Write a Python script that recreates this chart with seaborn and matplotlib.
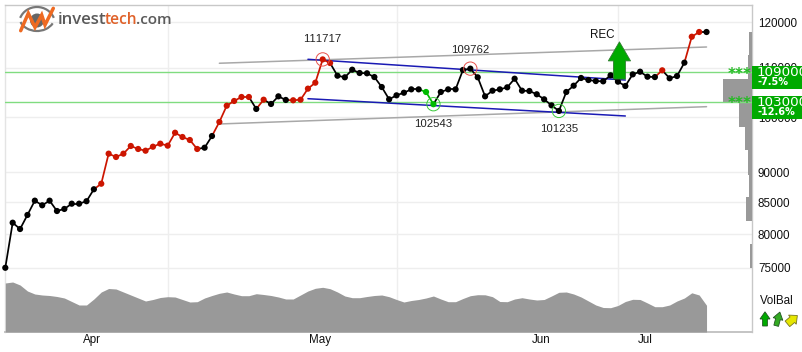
import numpy as np
import pandas as pd
import matplotlib
matplotlib.use("Agg")
import matplotlib.pyplot as plt
from matplotlib.patches import Polygon, Circle, Arc
import seaborn as sns

price = [75000,81750,80770,82970,85270,84520,85270,83600,83930,84780,84780,85180,87150,88080,
 93290,92700,93290,94670,94130,93820,94540,95090,94730,97100,96310,95760,94130,94360,96490,99120,
 102250,103180,103970,103970,101620,103430,102590,104100,103380,103320,103430,105640,106850,111717,
 110950,108290,107960,109540,108850,108790,108010,105970,103510,104300,104820,105500,105500,104970,
 102543,104970,105500,105500,109480,109762,107960,104100,105230,105500,105910,107670,105230,105170,
 104510,103510,102320,101235,104970,106240,107820,107400,107190,107130,108370,107060,106180,108570,
 109120,108080,108010,109410,107760,108220,111020,116670,117730,117730]
signal_runs = [("k",13),("r",14),("k",2),("r",5),("k",1),("r",1),("k",3),("r",6),("k",12),("g",2),
               ("k",30),("r",1),("k",3),("r",2),("k",1)]
volbal = [49,50,47,41,38,37,36.5,35.5,34,30.5,27,27,33,40,43.5,43,40,37,34,31,32.5,34.5,35.3,35,32.5,30,30.3,
 34,36.5,38.7,40,38,36.3,36.3,38.3,37.5,36.5,35,33,33,37,41,43.7,44.7,43.3,40,36,34.3,34.3,35.5,36.5,37,35.3,
 32.5,30,31.5,32.5,34,36,33,30.3,30.3,33.5,36.3,37.3,37.2,35.3,30.5,30.3,33,34.3,33,32,32.5,36,39.7,40,38,35,31,
 27,24.5,24.3,26.5,30.5,32.7,32.5,29,25.3,25.3,27,31,34,39.2,37,26.7]
profile_edges = [117700,112670,107600,102800,98180,93950,89570,85840,82020,78490,75000]
profile_vol = [3,4.3,29,13.3,7,4.7,3.3,6.3,0.7,2]
levels = [109000,103000]
level_pct = ["-7.5%","-12.6%"]
pivots_hi = [(43,"111717",14.7),(63,"109762",13.5)]
pivots_lo = [(58,"102543",-14.4),(75,"101235",-13)]
channel_gray = [([29,95],[110900,114400]),([29,95],[98740,102060])]
channel_blue = [([41,84],[111740,107400]),([41,84],[103630,100260])]
yticks = [75000,80000,85000,90000,100000,110000,120000]
month_grid = [22,53,83]
month_pos = [11.8,42.7,72.6,86.7]
month_lab = ["Apr","May","Jun","Jul"]
rec_x, rec_lo, rec_hi = 83.2, 107600, 115530

sns.set_theme(style="white")
plt.rcParams["font.family"] = ["Liberation Sans", "DejaVu Sans"]
plt.rcParams["text.kerning_factor"] = 6
W, H = 802, 352
fig = plt.figure(figsize=(W/100, H/100), dpi=100, facecolor="white")
ax = fig.add_axes([5.3/W, (H-332)/H, 747/W, 327.3/H])
ax.set_yscale("log")
ax.set_xlim(0, 101.2)
ax.set_ylim(66330, 124040)

idx = np.arange(len(price))

# volume balance area on its own linear scale
ax_v = ax.twinx()
ax_v.set_ylim(0, 327.3)
ax_v.axis("off")
ax_v.fill_between(idx, 0, volbal, color="#999999", lw=0)
ax_v.set_zorder(1)

# volume-by-price profile
ax_p = ax.twiny()
ax_p.set_xlim(747, 0)
ax_p.axis("off")
ax_p.set_zorder(2)
for i, v in enumerate(profile_vol):
    ax_p.fill_betweenx(profile_edges[i:i+2], 0, v, color="#999999", lw=0)

# overlay for price lines
ax_m = ax.twinx()
ax_m.set_yscale("log")
ax_m.set_ylim(ax.get_ylim())
ax_m.axis("off")
ax_m.set_zorder(3)

ax.set_yticks(yticks)
ax.set_yticklabels([str(v) for v in yticks])
ax.minorticks_off()
ax.yaxis.tick_right()
ax.set_xticks(month_grid)
ax.set_xticklabels([""]*3)
ax.set_xticks(month_pos, minor=True)
ax.set_xticklabels(month_lab, minor=True)
ax.tick_params(axis="both", which="both", length=0, labelsize=8.4, colors="#111111")
ax.tick_params(axis="y", pad=4)
ax.tick_params(axis="x", which="minor", pad=1.5)
ax.grid(True, which="major", color="#eeeeee", lw=1)
ax.set_axisbelow(True)
for s, c, w in [("top","#c8c8c8",1),("right","#c8c8c8",1),("left","#e4e4e4",1),("bottom","#c4c4c4",1.4)]:
    ax.spines[s].set_color(c); ax.spines[s].set_linewidth(w); ax.spines[s].set_visible(True)

for lv in levels:
    ax_m.axhline(lv, color="#80dc80", lw=1, zorder=1)
for xs, ys in channel_gray:
    sns.lineplot(x=xs, y=ys, ax=ax_m, color="#a8a8a8", lw=1.1, legend=False, zorder=2)
for xs, ys in channel_blue:
    sns.lineplot(x=xs, y=ys, ax=ax_m, color="#1a1ab4", lw=1.1, legend=False, zorder=2)

cols = {"k":"#000000","r":"#cc1500","g":"#00bb00"}
signals = sum(([c]*n for c, n in signal_runs), [])
df = pd.DataFrame({"i":idx, "price":price, "sig":signals})
for a, b in zip(range(len(df)-1), range(1, len(df))):
    seg = df.iloc[[a, b]]
    sns.lineplot(data=seg, x="i", y="price", ax=ax_m, color=cols[signals[b]], lw=1.25, legend=False, zorder=3, estimator=None)
sns.scatterplot(data=df, x="i", y="price", hue="sig", palette=cols, ax=ax_m, s=20, linewidth=0,
                legend=False, zorder=4, clip_on=False)
ax_m.set_xlabel(""); ax_m.set_ylabel("")

for group, col in [(pivots_hi,"#e8504a"),(pivots_lo,"#38c838")]:
    for i, lab, off in group:
        ax_m.scatter([i],[price[i]], s=92, facecolors="none", edgecolors=col, linewidths=0.7, zorder=5)
        ax_m.annotate(lab, (i, price[i]), xytext=(0, off), textcoords="offset points",
                      fontsize=8.2, color="#222222", ha="center", va="center")

ax_m.annotate("", xy=(rec_x, rec_hi), xytext=(rec_x, rec_lo),
              arrowprops=dict(width=8.6, headwidth=16, headlength=13.7, facecolor="#00aa00",
                              edgecolor="#2f7d2f", lw=0.6, shrink=0), zorder=6)
ax_m.annotate("REC", (rec_x, rec_hi), xytext=(-12.5, 5), textcoords="offset points", fontsize=8.4,
              color="#111111", ha="center", va="center")

# overlay in pixel coordinates for labels, logo and icons
ov = fig.add_axes([0,0,1,1], zorder=10)
ov.set_xlim(0, W); ov.set_ylim(H, 0); ov.axis("off"); ov.patch.set_alpha(0)

for (y0, y1), lab, pct, ystar in zip([(66,88.7),(96,118.7)], ["109000","103000"], level_pct, [71,99.5]):
    ov.add_patch(plt.Rectangle((752,y0), 50, y1-y0, color="#00aa00", lw=0))
    ov.text(757, y0+6.3, lab, color="white", fontsize=9.7, family="DejaVu Sans", va="center", ha="left", weight="medium")
    ov.text(758, y0+16, pct, color="white", fontsize=7.0, family="DejaVu Sans", weight="bold", va="center", ha="left")
    ov.text(739.5, ystar+8.5, "***", color="#22bb22", fontsize=11, ha="center", va="baseline", family="DejaVu Sans", weight="bold")

# logo
tx = [(58,"invest","#5a5a5a",12),(104.5,"tech","#e0622a",11.2),(136,".com","#5a5a5a",11)]
for x, s, c, fs in tx:
    ov.text(x, 20.5, s, color=c, fontsize=fs, family="Open Sans", weight="semibold", va="center", ha="left")
ov.add_patch(Circle((37,20.5), 7, color="#666666", lw=0))
ov.add_patch(Arc((37,24),36,34,theta1=200,theta2=340,color="#777777",lw=1.6))
ov.add_patch(Arc((37,16),36,30,theta1=25,theta2=160,color="#777777",lw=1.6))
ov.plot([20.7,28.3,35,41.7,45,53.3],[30.7,13.3,27.3,15,25,8.3],color="#ee6a22",lw=2.5,solid_joinstyle="miter")

# VolBal
ov.text(776.5, 301, "VolBal", fontsize=8.4, color="#111111", ha="center", va="center")
arrow = np.array([[0,-7.2],[5,0],[2.4,0],[2.4,7],[-2.4,7],[-2.4,0],[-5,0]])
fat = np.array([[0,-7],[6,-0.5],[3.6,-0.5],[3.6,6],[-3.6,6],[-3.6,-0.5],[-6,-0.5]])
for (cx,cy), ang, col, ec, shp in [((765,319),0,"#00aa00","#225522",arrow),((778,319),15,"#33aa22","#225522",arrow),((792,320),50,"#e6e600","#777722",fat)]:
    t = np.radians(ang); R = np.array([[np.cos(t),-np.sin(t)],[np.sin(t),np.cos(t)]])
    ov.add_patch(Polygon(shp @ R.T + [cx,cy], closed=True, facecolor=col, edgecolor=ec, lw=0.6))

fig.savefig("out.png", dpi=100)
